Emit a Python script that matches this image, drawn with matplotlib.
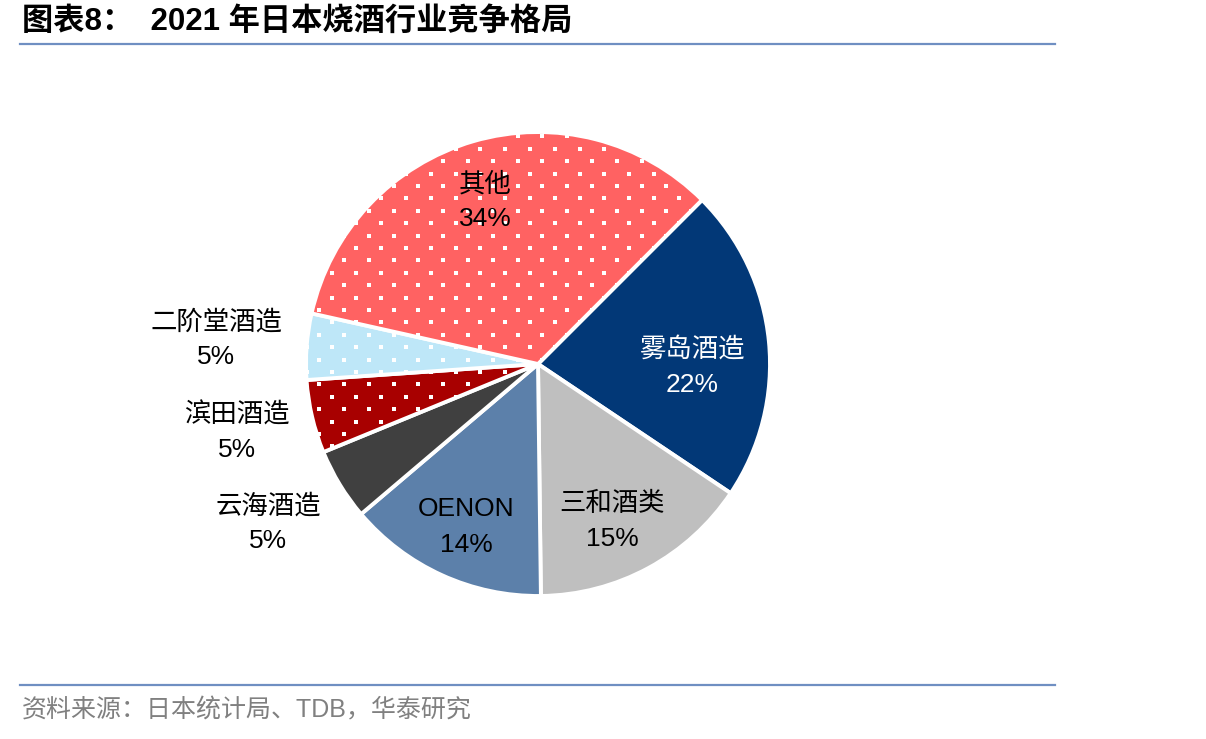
import numpy as np
import matplotlib
matplotlib.use("Agg")
import matplotlib.pyplot as plt

# ---- data ----
names = ["雾岛酒造", "三和酒类", "OENON", "云海酒造", "滨田酒造", "二阶堂酒造", "其他"]
shares = [21.9, 15.4, 14.0, 5.0, 5.1, 4.6, 34.0]
pct_labels = ["22%", "15%", "14%", "5%", "5%", "5%", "34%"]

# ---- style ----
colors = ["#023877", "#BFBFBF", "#5C80AA", "#404040", "#A80000", "#BEE7F8", "#FF6262"]
dotted = [False, False, False, False, True, True, True]
text_colors = ["white", "black", "black", "black", "black", "black", "black"]
# label centres in pixels of the figure (x from left, y from top)
label_px = [(692, 367), (612, 521), (466, 527), (268, 524), (237, 432), (216, 340), (485, 202)]

FONT = ["Liberation Sans", "Noto Sans CJK SC"]
plt.rcParams["font.family"] = FONT

W, H, DPI = 1206, 739, 100
fig = plt.figure(figsize=(W / DPI, H / DPI), dpi=DPI)

cx, cy, R = 538, 364, 232
ax = fig.add_axes([(cx - R) / W, (H - cy - R) / H, 2 * R / W, 2 * R / H])
ax.set_axis_off()

wedges, _ = ax.pie(shares, colors=colors, startangle=45, counterclock=False,
                   radius=1, center=(0, 0), frame=False,
                   wedgeprops=dict(edgecolor="white", linewidth=2.8))
ax.set_xlim(-1, 1)
ax.set_ylim(-1, 1)
for w in wedges:
    w.set_clip_on(False)

# dotted texture (white square dots on a staggered grid)
step = 12.4 / R
rows = np.arange(-1.05, 1.05, step)
gx, gy = [], []
for i, yv in enumerate(rows):
    xs = np.arange(-1.05 + (step if i % 2 else 0), 1.05, 2 * step)
    gx.extend(xs)
    gy.extend([yv] * len(xs))
gx = np.array(gx)
gy = np.array(gy)
for w, d in zip(wedges, dotted):
    if d:
        sc = ax.scatter(gx, gy, marker="s", s=7.5, c="white", linewidths=0, zorder=3)
        sc.set_clip_path(w)

# labels
half = 17.5
for (px, py), nm, pc, tc in zip(label_px, names, pct_labels, text_colors):
    fig.text(px / W, 1 - (py - half) / H, nm, ha="center", va="center", fontsize=19,
             color=tc, family=FONT, zorder=5)
    fig.text(px / W, 1 - (py + half) / H, pc, ha="center", va="center", fontsize=19,
             color=tc, family=FONT, zorder=5)

# title and rules
fig.text(22 / W, 1 - 22 / H, "图表8：  2021 年日本烧酒行业竞争格局", ha="left", va="center",
         fontsize=22.5, fontweight="bold", color="black", family=FONT)
line_col = "#6F8FC2"
fig.add_artist(plt.Line2D([20 / W, 1055 / W], [1 - 44 / H, 1 - 44 / H], color=line_col, lw=1.6))
fig.add_artist(plt.Line2D([20 / W, 1055 / W], [1 - 685 / H, 1 - 685 / H], color=line_col, lw=1.6))
fig.text(22 / W, 1 - 710 / H, "资料来源：日本统计局、TDB，华泰研究", ha="left", va="center",
         fontsize=18, color="#808080", family=FONT)

fig.savefig("out.png", dpi=DPI, facecolor="white")
